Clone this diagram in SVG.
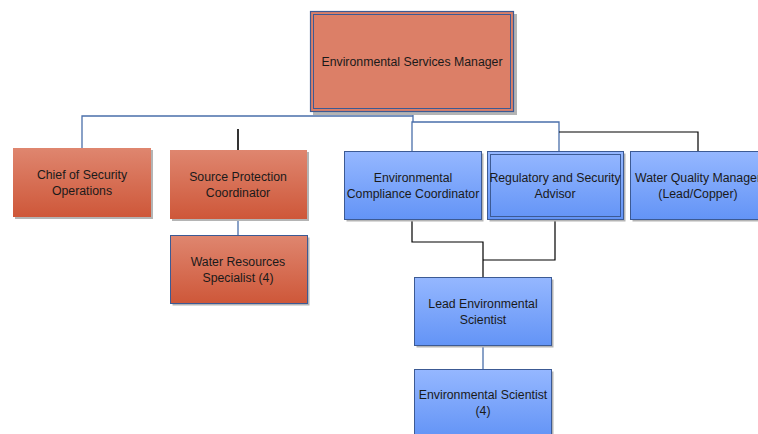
<svg xmlns="http://www.w3.org/2000/svg" width="758" height="434" viewBox="0 0 758 434">
  <defs>
    <linearGradient id="redGrad" x1="0" y1="0" x2="0" y2="1">
      <stop offset="0" stop-color="#DF866F"/>
      <stop offset="1" stop-color="#CE5739"/>
    </linearGradient>
    <linearGradient id="blueGrad" x1="0" y1="0" x2="0" y2="1">
      <stop offset="0" stop-color="#95B7FF"/>
      <stop offset="1" stop-color="#6394F6"/>
    </linearGradient>
  </defs>
  <style>
    .shadow { fill: #B4B4B4; }
    .red { fill: url(#redGrad); }
    .redb { fill: url(#redGrad); stroke: #3C5A94; stroke-width: 1; }
    .blue { fill: url(#blueGrad); stroke: #3C5A94; stroke-width: 1; }
    .inner { fill: none; stroke: #3C5A94; stroke-width: 1; }
    .lbl { font-family: "Liberation Sans", Arial, sans-serif; font-size: 12.3px; fill: #1A1A1A; text-anchor: middle; }
    .cb { fill: none; stroke: #4A6FAA; stroke-width: 1.3; }
    .ck { fill: none; stroke: #000000; stroke-width: 1.2; }
  </style>

  <!-- connectors -->
  <g id="connectors">
    <polyline class="cb" points="413,112 413,122"/>
    <polyline class="cb" points="82,148 82,116 413,116"/>
    <polyline class="cb" points="412,151 412,122 559,122 559,151"/>
    <polyline class="ck" points="559,132 698,132 698,151"/>
    <line x1="238" y1="129" x2="238" y2="150" stroke="#000" stroke-width="1.6"/>
    <polyline class="cb" points="238,219 238,235"/>
    <polyline class="ck" points="412,219 412,242 483,242 483,277"/>
    <polyline class="ck" points="555,219 555,260 483,260"/>
    <polyline class="cb" points="483,346 483,369"/>
  </g>

  <!-- top manager -->
  <g id="node-manager">
    <rect class="shadow" x="313" y="14" width="204" height="101"/>
    <rect x="310.5" y="11.5" width="203" height="100" fill="#DC7F67" stroke="#3C5A94" stroke-width="1.2"/>
    <rect class="inner" x="313.5" y="14.5" width="197" height="94"/>
    <text class="lbl" x="412" y="66">Environmental Services Manager</text>
  </g>

  <g id="node-chief">
    <rect class="shadow" x="15" y="150" width="138" height="69"/>
    <rect class="red" x="13" y="148" width="138" height="69"/>
    <text class="lbl" x="82" y="179">Chief of Security</text>
    <text class="lbl" x="82" y="195">Operations</text>
  </g>

  <g id="node-source">
    <rect class="shadow" x="172" y="152" width="137" height="69"/>
    <rect class="red" x="170" y="150" width="137" height="69"/>
    <text class="lbl" x="238" y="181">Source Protection</text>
    <text class="lbl" x="238" y="197">Coordinator</text>
  </g>

  <g id="node-water-resources">
    <rect class="shadow" x="172.5" y="237.5" width="137" height="68"/>
    <rect class="redb" x="170.5" y="235.5" width="137" height="68"/>
    <text class="lbl" x="238" y="266">Water Resources</text>
    <text class="lbl" x="238" y="282">Specialist (4)</text>
  </g>

  <g id="node-compliance">
    <rect class="shadow" x="346.5" y="153.5" width="137" height="68"/>
    <rect class="blue" x="344.5" y="151.5" width="137" height="68"/>
    <text class="lbl" x="413" y="182">Environmental</text>
    <text class="lbl" x="413" y="198">Compliance Coordinator</text>
  </g>

  <g id="node-regulatory">
    <rect class="shadow" x="489.5" y="153.5" width="136" height="68"/>
    <rect class="blue" x="487.5" y="151.5" width="136" height="68"/>
    <rect class="inner" x="490.5" y="154.5" width="130" height="62"/>
    <text class="lbl" x="555" y="182">Regulatory and Security</text>
    <text class="lbl" x="555" y="198">Advisor</text>
  </g>

  <g id="node-water-quality">
    <rect class="shadow" x="632.5" y="153.5" width="137" height="68"/>
    <rect class="blue" x="630.5" y="151.5" width="137" height="68"/>
    <text class="lbl" x="698" y="182">Water Quality Manager</text>
    <text class="lbl" x="698" y="198">(Lead/Copper)</text>
  </g>

  <g id="node-lead-scientist">
    <rect class="shadow" x="416.5" y="279.5" width="137" height="68"/>
    <rect class="blue" x="414.5" y="277.5" width="137" height="68"/>
    <text class="lbl" x="483" y="308">Lead Environmental</text>
    <text class="lbl" x="483" y="324">Scientist</text>
  </g>

  <g id="node-scientist">
    <rect class="shadow" x="416.5" y="371.5" width="137" height="68"/>
    <rect class="blue" x="414.5" y="369.5" width="137" height="68"/>
    <text class="lbl" x="483" y="399">Environmental Scientist</text>
    <text class="lbl" x="483" y="415">(4)</text>
  </g>
</svg>
